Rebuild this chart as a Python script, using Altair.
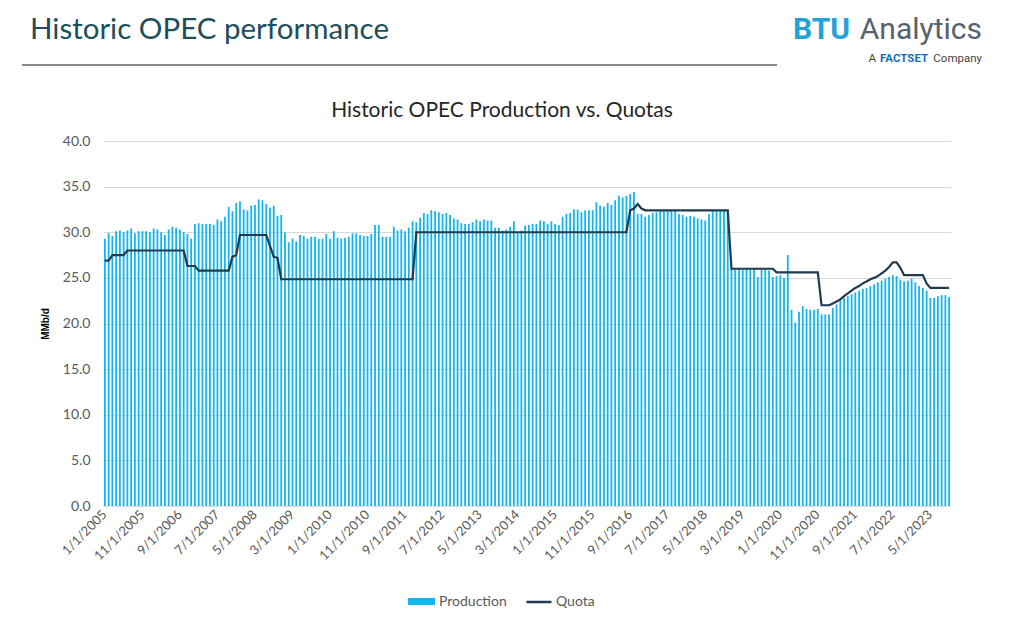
import altair as alt
import pandas as pd

FIRST_MONTH = "2005-01-01"

PRODUCTION = [
    29.3, 29.9, 29.6, 30.1, 30.2, 30.0, 30.2, 30.4, 29.9, 30.1,
    30.1, 30.1, 30.0, 30.4, 30.3, 30.0, 29.7, 30.3, 30.6, 30.5,
    30.3, 30.0, 29.8, 29.3, 30.9, 31.0, 30.9, 30.9, 30.9, 30.8,
    31.4, 31.2, 31.7, 32.8, 32.3, 33.2, 33.4, 32.5, 32.4, 32.9,
    33.0, 33.6, 33.5, 33.1, 32.7, 32.9, 31.8, 31.9, 30.0, 28.9,
    29.3, 29.0, 29.7, 29.6, 29.3, 29.5, 29.5, 29.3, 29.3, 29.8,
    29.3, 30.1, 29.4, 29.3, 29.4, 29.5, 29.9, 29.9, 29.7, 29.6,
    29.6, 29.8, 30.8, 30.8, 29.5, 29.5, 29.5, 30.6, 30.2, 30.3,
    30.1, 30.5, 31.2, 31.1, 31.6, 32.1, 32.0, 32.4, 32.3, 32.2,
    32.0, 32.1, 31.9, 31.5, 31.4, 31.0, 30.9, 30.9, 31.1, 31.4,
    31.2, 31.4, 31.3, 31.3, 30.5, 30.5, 30.2, 30.3, 30.6, 31.2,
    30.0, 30.2, 30.7, 30.8, 30.9, 30.9, 31.3, 31.2, 30.9, 31.2,
    30.9, 30.8, 31.7, 32.0, 32.1, 32.5, 32.5, 32.2, 32.4, 32.4,
    32.4, 33.3, 32.9, 32.8, 33.2, 33.0, 33.5, 34.0, 33.8, 34.0,
    34.2, 34.4, 32.0, 32.0, 31.7, 31.9, 32.1, 32.2, 32.4, 32.4,
    32.4, 32.4, 32.4, 32.0, 31.9, 31.7, 31.8, 31.7, 31.5, 31.4,
    31.3, 32.0, 32.4, 32.4, 32.4, 32.4, 32.4, 26.0, 25.9, 26.0,
    25.9, 26.0, 25.9, 26.0, 25.1, 25.9, 26.0, 25.8, 25.1, 25.2,
    25.3, 25.0, 27.5, 21.5, 20.1, 21.3, 21.9, 21.6, 21.5, 21.5,
    21.6, 21.0, 21.0, 21.0, 21.7, 22.1, 22.7, 22.8, 23.0, 23.2,
    23.4, 23.6, 23.8, 23.9, 24.1, 24.3, 24.5, 24.7, 24.9, 25.1,
    25.3, 25.2, 24.8, 24.6, 24.7, 24.9, 24.5, 24.1, 23.9, 23.6,
    22.8, 22.8, 23.0, 23.1, 23.1, 22.9,
]

QUOTA = [
    26.9, 26.9, 27.5, 27.5, 27.5, 27.5, 28.0, 28.0, 28.0, 28.0,
    28.0, 28.0, 28.0, 28.0, 28.0, 28.0, 28.0, 28.0, 28.0, 28.0,
    28.0, 28.0, 26.3, 26.3, 26.3, 25.8, 25.8, 25.8, 25.8, 25.8,
    25.8, 25.8, 25.8, 25.8, 27.3, 27.5, 29.7, 29.7, 29.7, 29.7,
    29.7, 29.7, 29.7, 29.7, 28.5, 27.3, 27.2, 24.85, 24.85, 24.85,
    24.85, 24.85, 24.85, 24.85, 24.85, 24.85, 24.85, 24.85, 24.85, 24.85,
    24.85, 24.85, 24.85, 24.85, 24.85, 24.85, 24.85, 24.85, 24.85, 24.85,
    24.85, 24.85, 24.85, 24.85, 24.85, 24.85, 24.85, 24.85, 24.85, 24.85,
    24.85, 24.85, 24.85, 30.0, 30.0, 30.0, 30.0, 30.0, 30.0, 30.0,
    30.0, 30.0, 30.0, 30.0, 30.0, 30.0, 30.0, 30.0, 30.0, 30.0,
    30.0, 30.0, 30.0, 30.0, 30.0, 30.0, 30.0, 30.0, 30.0, 30.0,
    30.0, 30.0, 30.0, 30.0, 30.0, 30.0, 30.0, 30.0, 30.0, 30.0,
    30.0, 30.0, 30.0, 30.0, 30.0, 30.0, 30.0, 30.0, 30.0, 30.0,
    30.0, 30.0, 30.0, 30.0, 30.0, 30.0, 30.0, 30.0, 30.0, 30.0,
    32.4, 32.6, 33.1, 32.6, 32.4, 32.4, 32.4, 32.4, 32.4, 32.4,
    32.4, 32.4, 32.4, 32.4, 32.4, 32.4, 32.4, 32.4, 32.4, 32.4,
    32.4, 32.4, 32.4, 32.4, 32.4, 32.4, 32.4, 26.0, 26.0, 26.0,
    26.0, 26.0, 26.0, 26.0, 26.0, 26.0, 26.0, 26.0, 26.0, 25.6,
    25.6, 25.6, 25.6, 25.6, 25.6, 25.6, 25.6, 25.6, 25.6, 25.6,
    25.6, 22.0, 22.0, 22.0, 22.2, 22.4, 22.65, 23.0, 23.3, 23.6,
    23.9, 24.1, 24.4, 24.6, 24.85, 25.0, 25.2, 25.5, 25.8, 26.2,
    26.7, 26.7, 26.1, 25.3, 25.3, 25.3, 25.3, 25.3, 25.3, 24.4,
    23.9, 23.9, 23.9, 23.9, 23.9, 23.9,
]

TICK_LABELS = [
    "1/1/2005", "11/1/2005", "9/1/2006", "7/1/2007", "5/1/2008", "3/1/2009",
    "1/1/2010", "11/1/2010", "9/1/2011", "7/1/2012", "5/1/2013", "3/1/2014",
    "1/1/2015", "11/1/2015", "9/1/2016", "7/1/2017", "5/1/2018", "3/1/2019",
    "1/1/2020", "11/1/2020", "9/1/2021", "7/1/2022", "5/1/2023",
]
Y_TICKS = [0, 5, 10, 15, 20, 25, 30, 35, 40]

months = pd.date_range(FIRST_MONTH, periods=len(PRODUCTION), freq="MS")
MONTHS = [f"{d.month}/1/{d.year}" for d in months]

df = pd.DataFrame({"month": MONTHS, "Production": PRODUCTION, "Quota": QUOTA})

FONT = "Lato"
GRAY = "#595959"
BAR_COLOR = "#12b5ee"
LINE_COLOR = "#1f3b4d"

x_enc = alt.X(
    "month:N",
    scale=alt.Scale(domain=MONTHS, paddingInner=0.52, paddingOuter=0.26),
    axis=alt.Axis(
        values=TICK_LABELS, labelAngle=-45, labelAlign="right", labelBaseline="middle",
        labelFont=FONT, labelFontSize=13, labelColor=GRAY, labelPadding=6,
        labelOverlap=False, labelBound=False, ticks=False, domain=False, grid=False,
    ),
    title=None,
)
y_scale = alt.Scale(domain=[0, 40])
y_axis = alt.Axis(
    values=Y_TICKS, format=".1f", labelFont=FONT, labelFontSize=14, labelColor=GRAY,
    labelPadding=13, ticks=False, domain=False, grid=True, gridColor="#d9d9d9",
    gridWidth=1, titleFont="Liberation Sans", titleFontSize=10, titleFontWeight="bold",
    titleColor="#000000", titlePadding=12,
)

base = alt.Chart(df)

bars = base.transform_calculate(series="'Production'").mark_bar().encode(
    x=x_enc,
    y=alt.Y("Production:Q", scale=y_scale, axis=y_axis, title="MMb/d"),
    color=alt.Color(
        "series:N",
        scale=alt.Scale(domain=["Production"], range=[BAR_COLOR]),
        legend=alt.Legend(
            title=None, orient="none", legendX=305, legendY=447, direction="horizontal",
            symbolType="M-1,-0.26H1V0.26H-1Z", symbolSize=729, symbolStrokeWidth=0,
            labelFont=FONT, labelFontSize=14, labelColor=GRAY, labelOffset=4,
        ),
    ),
)

line = base.transform_calculate(series2="'Quota'").mark_line(strokeWidth=2.2).encode(
    x=x_enc,
    y=alt.Y("Quota:Q", scale=y_scale, axis=y_axis, title="MMb/d"),
    stroke=alt.Stroke(
        "series2:N",
        scale=alt.Scale(domain=["Quota"], range=[LINE_COLOR]),
        legend=alt.Legend(
            title=None, orient="none", legendX=422, legendY=447, direction="horizontal",
            symbolType="stroke", symbolSize=625, symbolStrokeWidth=2.5,
            labelFont=FONT, labelFontSize=14, labelColor=GRAY, labelOffset=3,
        ),
    ),
)

one = alt.Data(values=[{"k": 1}])


def label(text, x, y, size, color, weight="normal", align="left", font=FONT):
    return alt.Chart(one).mark_text(
        font=font, fontSize=size, color=color, fontWeight=weight, align=align,
        baseline="alphabetic",
    ).encode(x=alt.value(x), y=alt.value(y), text=alt.value(text))


title = label("Historic OPEC Production vs. Quotas", 399, -24, 21, "#262626", align="center")
header = label("Historic OPEC performance", -73, -102, 29.5, "#1d4e5c")
rule = alt.Chart(one).mark_rule(color="#8c8c8c", strokeWidth=2).encode(
    x=alt.value(-81), x2=alt.value(674), y=alt.value(-76)
)
logo_btu = label("BTU", 747, -102, 30, "#1fa3d8", weight="bold", align="right", font="Roboto")
logo_an = label("Analytics", 879, -102, 30, "#56626c", align="right", font="Roboto")
logo_a = label("A", 773, -79, 11.5, "#444444", align="right", font="Roboto")
logo_fs = label("FACTSET", 777, -79, 11.5, "#1a6fb5", weight="bold", align="left", font="Roboto")
logo_co = label("Company", 879, -79, 11.5, "#444444", align="right", font="Roboto")

chart = alt.layer(
    bars, line, title, header, rule, logo_btu, logo_an, logo_a, logo_fs, logo_co
).properties(
    width=848,
    height=365,
    padding={"left": 95, "top": 133, "right": 65, "bottom": 104},
    autosize=alt.AutoSizeParams(type="none"),
).configure_view(strokeWidth=0)

chart.save("out.html", embed_options={"renderer": "svg", "actions": False})
